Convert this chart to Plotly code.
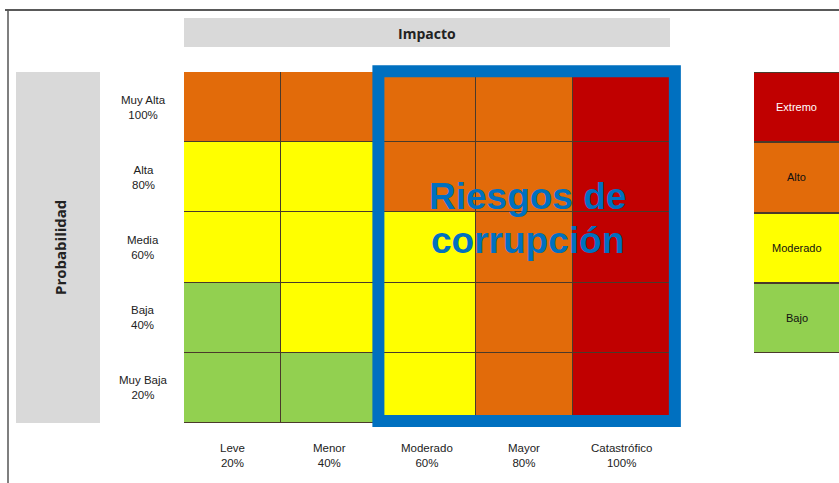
import plotly.graph_objects as go

# ---- data ----
impact_labels = ["Leve", "Menor", "Moderado", "Mayor", "Catastrófico"]
impact_pct = ["20%", "40%", "60%", "80%", "100%"]
prob_labels = ["Muy Baja", "Baja", "Media", "Alta", "Muy Alta"]  # bottom -> top
prob_pct = ["20%", "40%", "60%", "80%", "100%"]
# risk level index: 0 Bajo, 1 Moderado, 2 Alto, 3 Extremo (rows bottom -> top)
risk_matrix = [
    [0, 0, 1, 2, 3],
    [0, 1, 1, 2, 3],
    [1, 1, 1, 2, 3],
    [1, 1, 2, 2, 3],
    [2, 2, 2, 2, 3],
]
level_names = ["Bajo", "Moderado", "Alto", "Extremo"]
level_colors = ["#92D050", "#FFFF00", "#E26B0A", "#C00000"]
level_text_colors = ["#111111", "#111111", "#111111", "#FFFFFF"]
highlight_cols = ["Moderado", "Catastrófico"]  # blue box span
highlight_text = ["Riesgos de", "corrupción"]

W, H = 839, 483
def px(x): return x / W
def py(y): return 1 - y / H

XD = [px(184), px(670)]
YD = [py(423), py(72)]
def xdata_to_paper(v):  # x axis range [-0.5, 4.5]
    return XD[0] + (v + 0.5) / 5 * (XD[1] - XD[0])
def ydata_to_paper(v):
    return YD[0] + (v + 0.5) / 5 * (YD[1] - YD[0])

cs = []
for i, c in enumerate(level_colors):
    cs.append([i / 4, c]); cs.append([(i + 1) / 4, c])

fig = go.Figure()
fig.add_trace(go.Heatmap(
    z=risk_matrix, x=list(range(5)), y=list(range(5)),
    colorscale=cs, zmin=-0.5, zmax=3.5, showscale=False,
    xgap=1, ygap=1, hoverinfo="skip", xaxis="x", yaxis="y"))

# legend as second heatmap
fig.add_trace(go.Heatmap(
    z=[[i] for i in range(4)], x=[0], y=list(range(4)),
    colorscale=cs, zmin=-0.5, zmax=3.5, showscale=False,
    ygap=2, hoverinfo="skip", xaxis="x2", yaxis="y2"))

ann = []
font_lbl = dict(family="Liberation Sans, Arial", size=11.5, color="#222222")
for i, (n, p) in enumerate(zip(impact_labels, impact_pct)):
    ann.append(dict(x=i, y=py(455), xref="x", yref="paper", text=f"{n}<br>{p}",
                    showarrow=False, font=font_lbl, align="center",
                    xanchor="center", yanchor="middle"))
for j, (n, p) in enumerate(zip(prob_labels, prob_pct)):
    ann.append(dict(x=px(143), y=j, xref="paper", yref="y", text=f"{n}<br>{p}",
                    showarrow=False, font=font_lbl, align="center",
                    xanchor="center", yanchor="middle"))
for k, n in enumerate(level_names):
    ann.append(dict(x=0, y=k, xref="x2", yref="y2", text=n, showarrow=False,
                    xanchor="center", yanchor="middle",
                    font=dict(family="Liberation Sans, Arial", size=11,
                              color=level_text_colors[k])))

c0 = impact_labels.index(highlight_cols[0])
c1 = impact_labels.index(highlight_cols[1])
xm = (c0 - 0.5 + c1 + 0.5) / 2 + 0.03
big = dict(family="Liberation Sans, Arial", size=37, color="#0070C0")
ann.append(dict(x=xm, y=2.73, xref="x", yref="y", text=f"<b>{highlight_text[0]}</b>",
                showarrow=False, font=big, xanchor="center", yanchor="middle"))
ann.append(dict(x=xm, y=2.1, xref="x", yref="y", text=f"<b>{highlight_text[1]}</b>",
                showarrow=False, font=big, xanchor="center", yanchor="middle"))

ann.append(dict(x=px(427), y=py(33), xref="paper", yref="paper", text="<b>Impacto</b>",
                showarrow=False, xanchor="center", yanchor="middle",
                font=dict(family="Open Sans", size=14, color="#222222")))
ann.append(dict(x=px(60), y=py(248), xref="paper", yref="paper", text="<b>Probabilidad</b>",
                textangle=-90, showarrow=False, xanchor="center", yanchor="middle",
                font=dict(family="Open Sans", size=15, color="#222222")))

shapes = [
    dict(type="rect", xref="paper", yref="paper", x0=px(184), x1=px(670), y0=py(47), y1=py(18),
         fillcolor="#D9D9D9", line=dict(width=0), layer="below"),
    dict(type="rect", xref="paper", yref="paper", x0=px(16), x1=px(100), y0=py(423), y1=py(72),
         fillcolor="#D9D9D9", line=dict(width=0), layer="below"),
    dict(type="line", xref="paper", yref="paper", x0=px(5), x1=1, y0=py(10), y1=py(10),
         line=dict(color="#222222", width=1.5)),
    dict(type="line", xref="paper", yref="paper", x0=px(8), x1=px(8), y0=py(10), y1=0,
         line=dict(color="#555555", width=1.5)),
    dict(type="rect", xref="paper", yref="paper",
         x0=xdata_to_paper(c0 - 0.5), x1=xdata_to_paper(c1 + 0.55),
         y0=ydata_to_paper(-0.47), y1=ydata_to_paper(4.51),
         line=dict(color="#0070C0", width=12), fillcolor="rgba(0,0,0,0)", layer="above"),
]

fig.update_layout(
    width=W, height=H, margin=dict(l=0, r=0, t=0, b=0),
    paper_bgcolor="white", plot_bgcolor="#4a3a2a",
    xaxis=dict(domain=XD, range=[-0.5, 4.5], showticklabels=False,
               showgrid=False, zeroline=False, ticks=""),
    yaxis=dict(domain=YD, range=[-0.5, 4.5], showticklabels=False,
               showgrid=False, zeroline=False, ticks=""),
    xaxis2=dict(domain=[px(754), 1.0], range=[-0.5, 0.5], showticklabels=False,
                showgrid=False, zeroline=False, anchor="y2"),
    yaxis2=dict(domain=[py(353), py(72)], range=[-0.5, 3.5], showticklabels=False,
                showgrid=False, zeroline=False, anchor="x2"),
    annotations=ann, shapes=shapes, showlegend=False,
)
fig.write_html("out.html", config={"displayModeBar": False},
               post_script="document.body.style.margin='0';document.body.style.overflow='hidden';")
